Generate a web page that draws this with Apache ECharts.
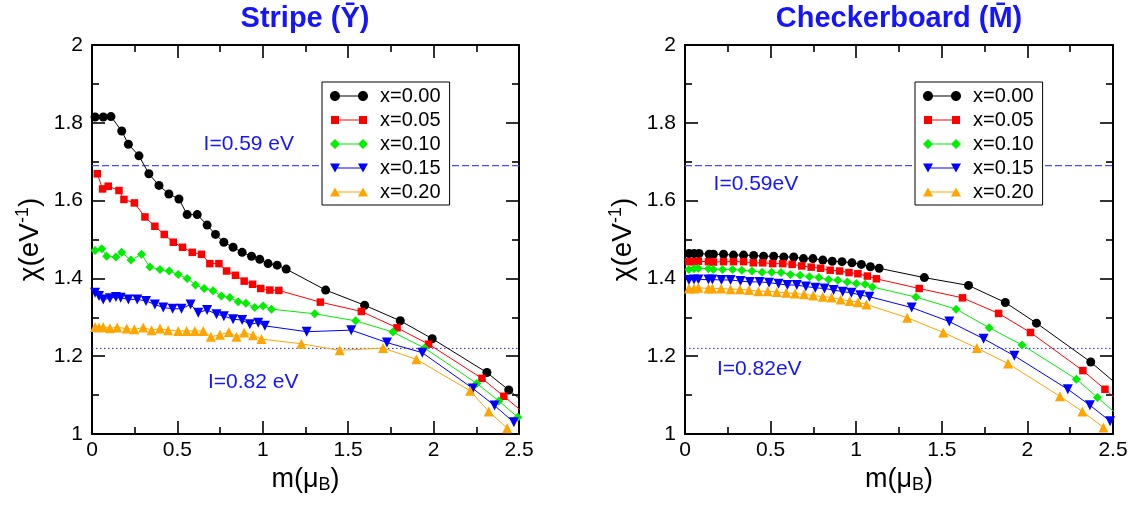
<!DOCTYPE html>
<html>
<head>
<meta charset="utf-8">
<script src="https://cdn.jsdelivr.net/npm/echarts@6/dist/echarts.min.js"></script>
<style>html,body{margin:0;padding:0;background:#fff;}#c{width:1134px;height:506px;}</style>
</head>
<body>
<div id="c"></div>
<script>
// ---- Data ----
const seriesNames = ['x=0.00', 'x=0.05', 'x=0.10', 'x=0.15', 'x=0.20'];
const xTicks = ['0', '0.5', '1', '1.5', '2', '2.5'];
const yTicks = ['1', '1.2', '1.4', '1.6', '1.8', '2'];

// Stripe (left)
const s0x = [0.018,0.066,0.111,0.174,0.213,0.275,0.333,0.392,0.450,0.509,0.557,0.616,0.674,0.723,0.772,0.826,0.879,0.934,0.982,1.031,1.084,1.137,1.368,1.596,1.805,1.992,2.312,2.440,2.560];
const s0y = [1.815,1.815,1.816,1.779,1.745,1.715,1.669,1.639,1.617,1.604,1.564,1.564,1.537,1.513,1.493,1.480,1.467,1.457,1.449,1.438,1.434,1.424,1.370,1.331,1.291,1.245,1.158,1.113,1.071];
const s1x = [0.031,0.062,0.095,0.158,0.187,0.248,0.310,0.368,0.423,0.476,0.530,0.587,0.641,0.690,0.743,0.788,0.840,0.891,0.940,0.988,1.041,1.094,1.337,1.577,1.786,1.971,2.283,2.411,2.560];
const s1y = [1.669,1.630,1.637,1.626,1.603,1.594,1.558,1.534,1.513,1.493,1.480,1.467,1.462,1.438,1.438,1.419,1.408,1.393,1.385,1.374,1.370,1.369,1.339,1.315,1.273,1.231,1.143,1.097,1.043];
const s2x = [0.018,0.057,0.086,0.140,0.174,0.228,0.290,0.339,0.398,0.452,0.505,0.557,0.606,0.657,0.709,0.758,0.807,0.856,0.901,0.953,1.002,1.051,1.304,1.544,1.762,1.947,2.253,2.382,2.493];
const s2y = [1.472,1.476,1.457,1.455,1.467,1.447,1.462,1.429,1.423,1.419,1.410,1.400,1.383,1.374,1.368,1.355,1.351,1.340,1.336,1.325,1.329,1.321,1.309,1.291,1.262,1.221,1.130,1.085,1.043];
const s3x = [0.018,0.041,0.066,0.105,0.140,0.168,0.213,0.265,0.316,0.368,0.417,0.472,0.524,0.577,0.622,0.674,0.729,0.772,0.826,0.879,0.924,0.973,1.012,1.257,1.518,1.727,1.934,2.230,2.357,2.470];
const s3y = [1.363,1.355,1.346,1.349,1.352,1.350,1.346,1.346,1.342,1.333,1.325,1.322,1.322,1.333,1.312,1.319,1.308,1.303,1.295,1.293,1.282,1.286,1.278,1.263,1.267,1.235,1.209,1.117,1.073,1.030];
const s4x = [0.018,0.041,0.066,0.105,0.148,0.203,0.248,0.300,0.349,0.398,0.446,0.505,0.554,0.602,0.651,0.696,0.749,0.801,0.846,0.891,0.943,0.992,1.226,1.450,1.704,1.899,2.214,2.323,2.431];
const s4y = [1.275,1.274,1.275,1.272,1.274,1.271,1.269,1.274,1.267,1.271,1.267,1.265,1.265,1.265,1.265,1.250,1.255,1.262,1.250,1.261,1.254,1.244,1.232,1.215,1.221,1.192,1.111,1.058,1.015];

// Checkerboard (right)
const c0x = [0.023,0.053,0.082,0.141,0.166,0.225,0.283,0.342,0.401,0.459,0.518,0.577,0.635,0.692,0.747,0.805,0.860,0.917,0.975,1.030,1.083,1.134,1.398,1.656,1.871,2.053,2.370,2.501];
const c0y = [1.464,1.464,1.464,1.462,1.462,1.462,1.460,1.460,1.459,1.457,1.457,1.455,1.455,1.451,1.451,1.447,1.444,1.443,1.440,1.436,1.430,1.426,1.402,1.382,1.338,1.285,1.185,1.136];
const c1x = [0.023,0.053,0.078,0.137,0.166,0.225,0.283,0.342,0.399,0.454,0.512,0.571,0.626,0.682,0.737,0.792,0.848,0.903,0.958,1.010,1.065,1.118,1.368,1.621,1.832,2.018,2.324,2.453,2.560];
const c1y = [1.443,1.443,1.444,1.443,1.442,1.443,1.443,1.443,1.440,1.440,1.438,1.438,1.436,1.432,1.429,1.426,1.421,1.419,1.415,1.412,1.406,1.399,1.374,1.350,1.310,1.261,1.163,1.115,1.075];
const c2x = [0.023,0.053,0.078,0.137,0.166,0.219,0.278,0.332,0.391,0.450,0.506,0.561,0.616,0.672,0.727,0.782,0.839,0.893,0.948,1.001,1.052,1.095,1.349,1.584,1.777,1.969,2.286,2.409,2.560];
const c2y = [1.423,1.425,1.426,1.425,1.423,1.423,1.423,1.421,1.419,1.416,1.416,1.415,1.410,1.408,1.404,1.402,1.397,1.395,1.391,1.387,1.385,1.378,1.352,1.321,1.273,1.229,1.141,1.094,1.037];
const c3x = [0.023,0.053,0.078,0.137,0.160,0.213,0.266,0.324,0.379,0.436,0.491,0.546,0.598,0.653,0.706,0.761,0.815,0.868,0.921,0.972,1.024,1.077,1.324,1.544,1.744,1.924,2.236,2.365,2.483];
const c3y = [1.396,1.397,1.397,1.397,1.397,1.396,1.396,1.393,1.391,1.391,1.389,1.386,1.383,1.383,1.379,1.376,1.374,1.370,1.366,1.363,1.357,1.353,1.325,1.289,1.245,1.201,1.115,1.074,1.033];
const c4x = [0.023,0.053,0.078,0.137,0.160,0.211,0.266,0.321,0.374,0.429,0.483,0.536,0.591,0.643,0.696,0.749,0.805,0.856,0.909,0.962,1.011,1.060,1.298,1.509,1.705,1.887,2.190,2.321,2.444];
const c4y = [1.374,1.374,1.376,1.374,1.374,1.374,1.372,1.372,1.370,1.367,1.367,1.365,1.363,1.361,1.359,1.356,1.353,1.351,1.346,1.342,1.339,1.333,1.299,1.261,1.221,1.181,1.097,1.058,1.017];

// Reference lines (I = 0.59 eV, I = 0.82 eV)
const refLevels = [1.69, 1.22];
const refX = [0, 2.5];

// ---- Styling / building ----
const FONT = '"Liberation Sans", Arial, Helvetica, sans-serif';
const BLUE = '#1414ff';
const REFBLUE = ['#4a4aff', '#2a2aff'];
const colors = ['#000000', '#ff0000', '#00ee00', '#0000ff', '#ffa500'];
const symbols = ['circle', 'rect', 'diamond', 'triangle', 'triangle'];
const symRot = [0, 0, 0, 180, 0];
const symSize = [9, 7.5, 9, 10, 10];

function circ(cx, cy, r) {
  const k = 0.5523 * r;
  return `M${cx - r},${cy}C${cx - r},${cy - k} ${cx - k},${cy - r} ${cx},${cy - r}` +
    `C${cx + k},${cy - r} ${cx + r},${cy - k} ${cx + r},${cy}` +
    `C${cx + r},${cy + k} ${cx + k},${cy + r} ${cx},${cy + r}` +
    `C${cx - k},${cy + r} ${cx - r},${cy + k} ${cx - r},${cy}Z`;
}
const LINE = 'M4,4.5L34,4.5L34,5.5L4,5.5Z';
const CORNERS = 'M0,0L0.01,0L0.01,0.01ZM38,10L37.99,10L37.99,9.99Z';
const legendIcons = [
  'path://' + circ(5, 5, 5) + circ(33, 5, 5) + LINE + CORNERS,
  'path://M1,1L9,1L9,9L1,9ZM29,1L37,1L37,9L29,9Z' + LINE + CORNERS,
  'path://M5,0L10,5L5,10L0,5ZM33,0L38,5L33,10L28,5Z' + LINE + CORNERS,
  'path://M0,0.5L10,0.5L5,9.5ZM28,0.5L38,0.5L33,9.5Z' + LINE + CORNERS,
  'path://M5,0.5L10,9.5L0,9.5ZM33,0.5L38,9.5L28,9.5Z' + LINE + CORNERS
];

function zip(xs, ys) { return xs.map((x, i) => [x, ys[i]]); }
const stripeData = [zip(s0x, s0y), zip(s1x, s1y), zip(s2x, s2y), zip(s3x, s3y), zip(s4x, s4y)];
const checkerData = [zip(c0x, c0y), zip(c1x, c1y), zip(c2x, c2y), zip(c3x, c3y), zip(c4x, c4y)];

const grids = [
  { left: 92, top: 45, width: 427, height: 389 },
  { left: 685, top: 45, width: 428, height: 389 }
];

function xAxisPair(g) {
  const base = {
    gridIndex: g, type: 'value', min: 0, max: 2.5, interval: 0.5,
    axisLine: { show: true, onZero: false, lineStyle: { color: '#000', width: 2 } },
    axisTick: { show: true, inside: true, length: 13, lineStyle: { color: '#000', width: 1.6 } },
    minorTick: { show: true, splitNumber: 2, length: 7, lineStyle: { color: '#000', width: 1.6 } },
    splitLine: { show: false }
  };
  return [
    Object.assign({}, base, {
      position: 'bottom',
      axisLabel: { show: true, margin: 6, fontSize: 21, color: '#000', fontFamily: FONT,
        showMinLabel: true, showMaxLabel: true,
        formatter: v => xTicks[Math.round(v / 0.5)] },
      name: '{a|m(μ}{s|B}{a|)}', nameLocation: 'middle', nameGap: 16,
      nameTextStyle: { rich: {
        a: { fontSize: 27, fontFamily: FONT, color: '#000', lineHeight: 30 },
        s: { fontSize: 18, fontFamily: FONT, color: '#000', lineHeight: 18, verticalAlign: 'bottom' } } }
    }),
    Object.assign({}, base, { position: 'top', axisLabel: { show: false } })
  ];
}
function yAxisPair(g) {
  const base = {
    gridIndex: g, type: 'value', min: 1, max: 2, interval: 0.2,
    axisLine: { show: true, onZero: false, lineStyle: { color: '#000', width: 2 } },
    axisTick: { show: true, inside: true, length: 13, lineStyle: { color: '#000', width: 1.6 } },
    minorTick: { show: true, splitNumber: 2, length: 7, lineStyle: { color: '#000', width: 1.6 } },
    splitLine: { show: false }
  };
  return [
    Object.assign({}, base, {
      position: 'left',
      axisLabel: { show: true, margin: 9, fontSize: 21, color: '#000', fontFamily: FONT,
        showMinLabel: true, showMaxLabel: true,
        formatter: v => yTicks[Math.round((v - 1) / 0.2)] },
      name: '{a|χ(eV}{s|-1}{a|)}', nameLocation: 'middle', nameGap: 46, nameRotate: 90,
      nameTextStyle: { rich: {
        a: { fontSize: 28, fontFamily: FONT, color: '#000', lineHeight: 32 },
        s: { fontSize: 18, fontFamily: FONT, color: '#000', lineHeight: 18, verticalAlign: 'top' } } }
    }),
    Object.assign({}, base, { position: 'right', axisLabel: { show: false } })
  ];
}

function buildSeries(dataSets, g, annotations) {
  const out = [];
  // reference level lines, drawn as plain line series across the x range
  const dashTypes = [[7, 3], [1.5, 2.5]];
  const widths = [1.3, 1];
  refLevels.forEach((lv, k) => {
    out.push({
      type: 'line', name: 'ref' + g + k, xAxisIndex: g * 2, yAxisIndex: g * 2,
      data: refX.map(x => [x, lv]), symbol: 'none', silent: true, z: 1,
      lineStyle: { color: REFBLUE[k], width: widths[k], type: dashTypes[k] },
      itemStyle: { color: REFBLUE[k] },
      emphasis: { disabled: true }
    });
  });
  dataSets.forEach((d, i) => {
    const s = {
      type: 'line', name: seriesNames[i], xAxisIndex: g * 2, yAxisIndex: g * 2,
      data: d, symbol: symbols[i], symbolSize: symSize[i], symbolRotate: symRot[i],
      showAllSymbol: true, clip: true,
      lineStyle: { color: colors[i], width: 1 },
      itemStyle: { color: colors[i], borderWidth: 0 },
      emphasis: { disabled: true }, silent: true, z: 3 + i
    };
    if (i === 0) {
      s.markPoint = {
        silent: true, symbol: 'rect', symbolSize: 1,
        itemStyle: { color: 'rgba(0,0,0,0)' },
        label: { show: true, position: 'inside', color: BLUE, fontSize: 21, fontFamily: FONT,
          formatter: p => p.name },
        data: annotations
      };
    }
    out.push(s);
  });
  return out;
}

function legendFor(left) {
  return {
    orient: 'vertical', left: left, top: 82, itemWidth: 38, itemHeight: 10, itemGap: 4,
    padding: [4, 9, 3, 8], borderColor: '#000', borderWidth: 1, backgroundColor: '#fff',
    selectedMode: false, z: 20,
    textStyle: { fontSize: 20, fontFamily: FONT, color: '#000', padding: [0, 0, 0, 7] },
    data: seriesNames.map((n, i) => ({ name: n, icon: legendIcons[i],
      itemStyle: { color: colors[i], borderWidth: 0 } }))
  };
}

const option = {
  animation: false,
  backgroundColor: '#fff',
  grid: grids,
  xAxis: [...xAxisPair(0), ...xAxisPair(1)],
  yAxis: [...yAxisPair(0), ...yAxisPair(1)],
  legend: [legendFor(322), legendFor(915)],
  graphic: [
    { type: 'text', x: 305, y: 19, style: { text: 'Stripe (Y\u0304)', textAlign: 'center', textVerticalAlign: 'middle',
      fill: BLUE, font: 'bold 29px ' + FONT } },
    { type: 'text', x: 899, y: 19, style: { text: 'Checkerboard (M\u0304)', textAlign: 'center', textVerticalAlign: 'middle',
      fill: BLUE, font: 'bold 29px ' + FONT } }
  ],
  series: [
    ...buildSeries(stripeData, 0, [
      { name: 'I=0.59 eV', coord: [0.918, 1.745] },
      { name: 'I=0.82 eV', coord: [0.944, 1.134] }
    ]),
    ...buildSeries(checkerData, 1, [
      { name: 'I=0.59eV', coord: [0.414, 1.643] },
      { name: 'I=0.82eV', coord: [0.434, 1.167] }
    ])
  ]
};

const chart = echarts.init(document.getElementById('c'), null, { renderer: 'canvas' });
chart.setOption(option);
</script>
</body>
</html>
